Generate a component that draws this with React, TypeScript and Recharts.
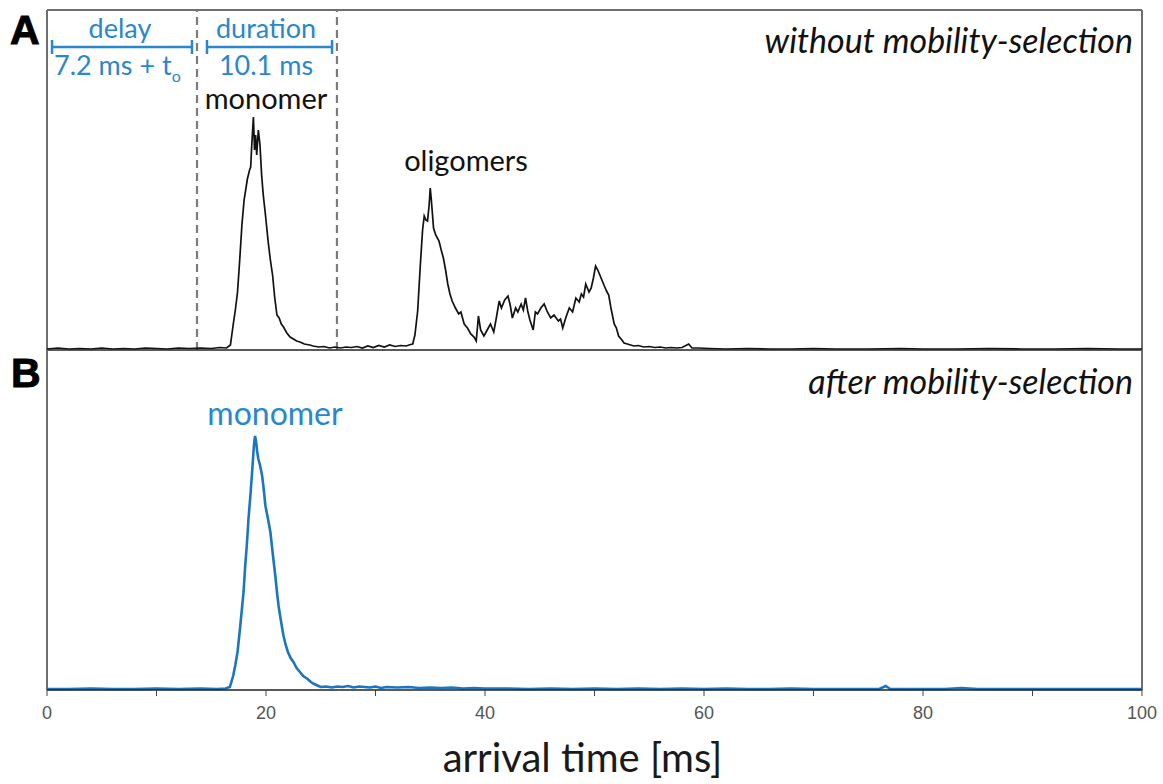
import { LineChart, Line, XAxis, YAxis, ReferenceLine, Label } from "recharts";

// panel A: without mobility-selection (arrival time in ms, counts)
const timesA = [
  0, 1, 2, 3, 4, 5, 6, 7, 8, 9, 10, 11, 12, 13, 14, 15, 15.8, 16.4, 16.75, 17.0,
  17.2, 17.4, 17.6, 17.8, 18.0, 18.3, 18.5, 18.6, 18.7, 18.85, 18.95, 19.05, 19.15, 19.3, 19.45, 19.6,
  19.75, 19.95, 20.2, 20.4, 20.6, 20.8, 21.0, 21.2, 21.4, 21.6, 21.9, 22.2, 22.5, 22.8, 23.1, 23.5,
  24.0, 24.3, 24.8, 25.3, 25.8, 26.3, 26.8, 27.3, 27.8, 28.3, 28.8, 29.3, 29.8, 30.3, 30.8, 31.3,
  31.8, 32.3, 32.8, 33.2, 33.4, 33.6, 33.85, 34.1, 34.3, 34.45, 34.6, 34.75, 34.9, 35.0, 35.1, 35.3,
  35.5, 35.8, 36.0, 36.2, 36.4, 36.6, 36.8, 37.0, 37.3, 37.6, 37.8, 38.1, 38.4, 38.7, 39.0, 39.2,
  39.4, 39.6, 39.9, 40.2, 40.5, 40.8, 41.0, 41.3, 41.5, 41.8, 42.1, 42.3, 42.5, 42.8, 43.0, 43.3,
  43.5, 43.7, 43.9, 44.1, 44.4, 44.6, 44.8, 45.1, 45.4, 45.7, 46.0, 46.3, 46.7, 46.9, 47.1, 47.4,
  47.7, 48.0, 48.3, 48.6, 48.8, 49.0, 49.2, 49.5, 49.7, 49.9, 50.1, 50.3, 50.6, 50.9, 51.1, 51.3,
  51.5, 51.8, 52.0, 52.2, 52.5, 52.7, 53.0, 53.3, 53.6, 54.0, 54.5, 55.0, 55.5, 56.0, 56.5, 57.0,
  57.5, 58.0, 58.6, 58.9, 59.5, 60.5, 62, 64, 66, 68, 70, 72, 75, 78, 80, 83, 86, 89, 92, 95, 98, 100,
];
const countsA = [
  10, 20, 10, 15, 10, 20, 10, 15, 10, 20, 15, 10, 20, 15, 20, 15, 25, 20, 50, 250,
  400, 580, 900, 1250, 1500, 1710, 1800, 1830, 2050, 2330, 2000, 2150, 1950, 2200, 2050, 1750,
  1550, 1350, 1080, 900, 750, 520, 350, 320, 260, 230, 170, 130, 110, 90, 80, 60,
  50, 40, 30, 35, 20, 30, 20, 30, 25, 35, 20, 40, 25, 45, 30, 50,
  35, 45, 40, 55, 60, 150, 390, 860, 1200, 1340, 1300, 1290, 1450, 1620, 1500, 1220,
  1150, 1090, 1000, 920, 800, 660, 560, 490, 420, 360, 380, 260, 220, 160, 130, 90,
  340, 200, 140, 200, 260, 180, 300, 490, 420, 500, 540, 450, 320, 420, 380, 460,
  400, 520, 390, 300, 200, 380, 360, 420, 460, 380, 320, 350, 290, 310, 220, 330,
  420, 380, 520, 480, 560, 530, 660, 580, 620, 720, 840, 800, 720, 640, 590, 550,
  420, 260, 220, 140, 100, 70, 60, 50, 40, 45, 30, 35, 25, 30, 20, 25,
  20, 25, 60, 20, 20, 15, 10, 15, 10, 10, 15, 10, 10, 15, 10, 10, 15, 10, 10, 15, 10, 10,
];

// panel B: after mobility-selection
const timesB = [
  0, 2, 4, 6, 8, 10, 12, 14, 15.5, 16.3, 16.7, 17.0, 17.2, 17.4, 17.65, 17.95, 18.1, 18.25,
  18.4, 18.6, 18.75, 18.9, 19.0, 19.1, 19.2, 19.3, 19.45, 19.65, 19.8, 19.95, 20.2, 20.4,
  20.6, 20.85, 21.0, 21.15, 21.35, 21.6, 21.8, 22.0, 22.25, 22.5, 22.8, 23.1, 23.4, 23.8,
  24.1, 24.4, 24.7, 25.0, 25.5, 26, 26.5, 27, 27.5, 28, 28.5, 29, 29.5, 30, 30.5, 31, 32,
  33, 34, 35, 36, 37, 38, 39, 40, 42, 44, 46, 48, 50, 52, 54, 56, 58, 60, 62, 64, 66, 68,
  70, 72, 74, 76, 76.6, 77, 79, 82, 83.5, 85, 88, 91, 94, 97, 100,
];
const countsB = [
  10, 10, 15, 10, 10, 15, 10, 15, 10, 15, 30, 140, 250, 380, 640, 980, 1240, 1450,
  1710, 1980, 2210, 2450, 2540, 2480, 2380, 2310, 2250, 2140, 2000, 1840, 1700, 1580,
  1380, 1140, 980, 840, 700, 540, 450, 380, 320, 280, 220, 180, 140, 110,
  80, 60, 45, 30, 35, 25, 35, 30, 40, 25, 35, 30, 25, 35, 20, 30, 25,
  30, 20, 25, 20, 25, 15, 20, 15, 15, 10, 15, 10, 15, 10, 15, 10, 15, 10, 15, 10, 10, 15,
  10, 10, 10, 10, 40, 10, 10, 10, 20, 10, 10, 10, 10, 10, 10,
];

const xTicks = [0, 10, 20, 30, 40, 50, 60, 70, 80, 90, 100];
const xTickLabels = ["0", "", "20", "", "40", "", "60", "", "80", "", "100"];

// gate window (ms) and annotation bars
const gateStart = 13.7;
const gateEnd = 26.48;
const delayBar = [0.46, 13.24];
const durationBar = [14.61, 26.03];

const yMax = 3400;
const barY = 3030;
const capLo = 2960;
const capHi = 3100;

const dataA = timesA.map((t, i) => ({ t, v: countsA[i] }));
const dataB = timesB.map((t, i) => ({ t, v: countsB[i] }));

const W = 1163;
const frame = "#6e6e6e";
const blue = "#1b76bf";
const blueText = "#2b87cb";
const textFont = "Lato, 'Open Sans', sans-serif";

function bracket(range: number[], key: string) {
  return [
    <ReferenceLine key={key + "bar"} segment={[{ x: range[0], y: barY }, { x: range[1], y: barY }]} stroke={blueText} strokeWidth={2.5} />,
    <ReferenceLine key={key + "l"} segment={[{ x: range[0], y: capLo }, { x: range[0], y: capHi }]} stroke={blueText} strokeWidth={2.5} />,
    <ReferenceLine key={key + "r"} segment={[{ x: range[1], y: capLo }, { x: range[1], y: capHi }]} stroke={blueText} strokeWidth={2.5} />,
  ];
}

// left / right frame of a panel
function sides(key: string) {
  return [
    <ReferenceLine key={key + "0"} x={0} stroke={frame} strokeWidth={2} />,
    <ReferenceLine key={key + "1"} x={100} stroke={frame} strokeWidth={2} />,
  ];
}

export default function App() {
  return (
    <div style={{ position: "absolute", left: 0, top: 0, width: W, height: 784, background: "#fff" }}>
      {/* panel A */}
      <div style={{ position: "absolute", left: 0, top: 0 }}>
        <LineChart width={W} height={360} data={dataA} margin={{ top: 10, right: 21, bottom: 0, left: 47 }}>
          <XAxis
            dataKey="t"
            type="number"
            domain={[0, 100]}
            ticks={xTicks}
            tick={false}
            tickSize={5}
            height={10}
            axisLine={{ stroke: "#222", strokeWidth: 1.5 }}
            tickLine={{ stroke: "#444" }}
          />
          <YAxis domain={[0, yMax]} hide />
          <ReferenceLine y={yMax} stroke={frame} strokeWidth={2} />
          {sides("a")}
          <ReferenceLine x={gateStart} stroke="#7c7c7c" strokeWidth={2.2} strokeDasharray="8 5" />
          <ReferenceLine x={gateEnd} stroke="#7c7c7c" strokeWidth={2.2} strokeDasharray="8 5" />
          {bracket(delayBar, "d")}
          {bracket(durationBar, "u")}
          <Line type="linear" dataKey="v" stroke="#111" strokeWidth={1.7} dot={false} isAnimationActive={false} />
        </LineChart>
      </div>

      {/* panel B */}
      <div style={{ position: "absolute", left: 0, top: 350 }}>
        <LineChart width={W} height={434} data={dataB} margin={{ top: 0, right: 21, bottom: 0, left: 47 }}>
          <XAxis
            dataKey="t"
            type="number"
            domain={[0, 100]}
            ticks={xTicks}
            tickFormatter={(_v: number, i: number) => xTickLabels[i]}
            tickSize={6}
            tickMargin={10}
            height={94}
            tick={{ fontSize: 18, fill: "#555", fontFamily: "'Liberation Sans', Arial, sans-serif" }}
            axisLine={{ stroke: "#222", strokeWidth: 1.5 }}
            tickLine={{ stroke: "#444" }}
          >
            <Label
              value="arrival time [ms]"
              position="insideBottom"
              offset={12}
              dx={-12}
              style={{ fontSize: 40, fill: "#1a1a1a", fontFamily: textFont }}
            />
          </XAxis>
          <YAxis domain={[0, yMax]} hide />
          {sides("b")}
          <Line type="linear" dataKey="v" stroke={blue} strokeWidth={2.6} dot={false} isAnimationActive={false} />
        </LineChart>
      </div>

      {/* text annotations */}
      <svg width={W} height={784} style={{ position: "absolute", left: 0, top: 0, pointerEvents: "none" }}>
        <g fontFamily="'Liberation Sans', Arial, sans-serif" fontWeight="bold" fontSize={41} fill="#000" stroke="#000" strokeWidth={1}>
          <text x={10} y={44}>A</text>
          <text x={11} y={387}>B</text>
        </g>
        <g fontFamily={textFont} fill={blueText} fontSize={27}>
          <text x={120} y={38} textAnchor="middle">delay</text>
          <text x={54} y={75}>
            7.2 ms + t<tspan fontSize={16} dy={7}>o</tspan>
          </text>
          <text x={266} y={38} textAnchor="middle">duration</text>
          <text x={266} y={75} textAnchor="middle">10.1 ms</text>
        </g>
        <g fontFamily={textFont} fontSize={29} textAnchor="middle" fill="#111">
          <text x={266} y={109}>monomer</text>
          <text x={466} y={171}>oligomers</text>
          <text x={275} y={425} fontSize={32} fill={blueText}>monomer</text>
        </g>
        <g fontFamily={textFont} fontStyle="italic" fontSize={34} textAnchor="end" fill="#111">
          <text x={1133} y={53}>without mobility-selection</text>
          <text x={1133} y={394}>after mobility-selection</text>
        </g>
      </svg>
    </div>
  );
}
